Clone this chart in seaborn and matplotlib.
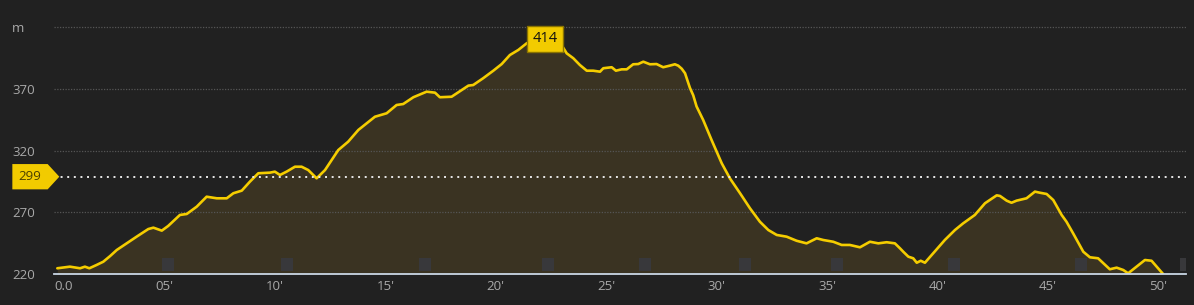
import matplotlib
matplotlib.use("Agg")
import matplotlib.pyplot as plt
import matplotlib.transforms as mtransforms
from matplotlib.patches import Polygon
import seaborn as sns
import pandas as pd

# ---- data ----
minutes = [0.15, 0.72, 1.18, 1.40, 1.60, 1.93, 2.23, 2.54, 2.84, 3.29, 3.74, 4.27, 4.50, 4.88,
           5.17, 5.70, 6.01, 6.46, 6.91, 7.37, 7.82, 8.12, 8.50, 8.87, 9.25, 9.78, 10.00, 10.23,
           10.53, 10.91, 11.21, 11.51, 11.89, 12.27, 12.87, 13.32, 13.78, 14.53, 15.06, 15.51,
           15.81, 16.27, 16.87, 17.25, 17.47, 18.00, 18.46, 18.76, 18.98, 19.43, 19.89, 20.27,
           20.64, 21.02, 21.40, 21.70, 22.23, 22.98, 23.21, 23.51, 23.81, 24.12, 24.41, 24.72,
           24.87, 25.25, 25.44, 25.70, 25.93, 26.22, 26.45, 26.68, 26.98, 27.28, 27.58, 27.88,
           28.11, 28.26, 28.42, 28.57, 28.79, 28.94, 29.09, 29.39, 29.77, 30.23, 30.60, 31.06,
           31.51, 31.96, 32.34, 32.72, 33.17, 33.62, 34.07, 34.53, 34.83, 35.28, 35.66, 36.03,
           36.49, 36.94, 37.32, 37.70, 38.07, 38.30, 38.45, 38.68, 38.90, 39.06, 39.24, 39.43,
           39.80, 40.33, 40.79, 41.16, 41.69, 42.15, 42.68, 42.83, 43.13, 43.35, 43.58, 44.03,
           44.41, 44.64, 44.94, 45.24, 45.62, 45.84, 46.14, 46.60, 46.90, 47.27, 47.80, 48.11,
           48.41, 48.63, 49.01, 49.39, 49.69, 50.22]
elevation = [224.8, 226.1, 224.8, 226.1, 224.8, 227.5, 230.1, 234.7, 239.6, 245.0, 250.4, 256.6, 257.7, 255.3,
             259.1, 268.0, 268.8, 274.7, 282.8, 281.5, 281.5, 285.6, 287.7, 295.0, 301.8, 302.3, 303.1, 300.4,
             303.1, 307.1, 307.1, 304.4, 297.7, 304.4, 320.6, 327.4, 336.9, 347.6, 350.4, 357.1,
             357.9, 363.4, 367.9, 367.1, 363.4, 363.8, 369.3, 372.8, 373.3, 378.8, 384.9, 390.3,
             397.6, 401.7, 407.1, 409.8, 414.0, 405.7, 399.0, 395.0, 389.5, 384.9, 384.9, 384.1,
             386.9, 387.7, 384.9, 386.0, 386.0, 390.1, 390.3, 392.2, 390.1, 390.3, 387.7, 389.0,
             390.1, 389.0, 386.5, 382.8, 371.0, 365.0, 356.0, 345.0, 328.8, 309.9, 297.7, 285.6,
             273.4, 262.5, 255.8, 251.8, 250.4, 247.1, 245.0, 249.1, 247.7, 246.3, 243.7, 243.7,
             241.8, 246.3, 245.0, 245.9, 245.0, 241.0, 238.2, 234.2, 232.9, 229.3, 230.9, 229.3,
             236.9, 247.7, 255.8, 261.2, 268.0, 277.5, 283.9, 283.4, 279.6, 277.9, 279.6, 281.5,
             286.9, 286.0, 285.0, 280.1, 268.0, 262.5, 253.1, 238.2, 233.7, 232.9, 224.0, 225.3,
             223.4, 220.7, 226.1, 231.5, 230.9, 220.0]
km_marks = [5.16, 10.55, 16.81, 22.36, 26.75, 31.28, 35.47, 40.74, 46.51, 51.27]
y_ticks = [220, 270, 320, 370, 420]
y_labels = ["220", "270", "320", "370", "m"]
x_ticks = [0, 5, 10, 15, 20, 25, 30, 35, 40, 45, 50]
x_labels = ["0.0", "05'", "10'", "15'", "20'", "25'", "30'", "35'", "40'", "45'", "50'"]
ref_value = 299
peak_value = 414

df = pd.DataFrame({"minute": minutes, "elevation": elevation})

# ---- style ----
BG = "#212121"
LINE = "#f5cd00"
FILL = "#3a3322"
TXT = "#a9a9a9"

sns.set_theme(style="dark")
plt.rcParams["font.family"] = ["Open Sans", "DejaVu Sans"]

fig = plt.figure(figsize=(11.94, 3.05), dpi=100, facecolor=BG)
ax = fig.add_axes([54 / 1194, 30.8 / 305, 1132 / 1194, 271.5 / 305])
ax.set_facecolor(BG)

ymin, ymax = 220, 440
ax.set_xlim(0, 51.25)
ax.set_ylim(ymin, ymax)

ax.fill_between(df["minute"], df["elevation"], ymin, color=FILL, lw=0, zorder=1)

for yt in y_ticks[1:]:
    ax.axhline(yt, color="#555555", lw=0.9, ls=(0, (1, 1.2)), zorder=1.5)

ax.bar(km_marks, [10.3] * len(km_marks), bottom=222.8, width=0.54,
       color="#38383b", zorder=1.6, linewidth=0)

sns.lineplot(data=df, x="minute", y="elevation", ax=ax, color=LINE, lw=1.9,
             zorder=3, estimator=None, sort=False)

ax.axhline(ref_value, color="#e8e8e8", lw=1.4, ls=(0, (1, 2.4)), zorder=4)

# reference value marker
trans = mtransforms.blended_transform_factory(ax.transAxes, ax.transData)
hh = 10.25
poly = Polygon([(-0.0368, ref_value + hh), (-0.0056, ref_value + hh), (0.0047, ref_value),
                (-0.0056, ref_value - hh), (-0.0368, ref_value - hh)],
               closed=True, transform=trans, clip_on=False, facecolor="#f2cb00",
               edgecolor="none", zorder=5)
ax.add_patch(poly)
ax.text(-0.0216, ref_value, str(ref_value), transform=trans, ha="center", va="center",
        fontsize=9.5, color="#4a3f00", zorder=6, clip_on=False)

# peak label
i_peak = elevation.index(peak_value)
ax.annotate(str(peak_value), xy=(minutes[i_peak], peak_value), xytext=(0, -3),
            textcoords="offset points", ha="center", va="center", fontsize=10.5,
            color="#111111", zorder=7,
            bbox=dict(boxstyle="square,pad=0.36", fc="#f2cb00", ec="#8a7300", lw=1))

# axes
for s in ["top", "right", "left"]:
    ax.spines[s].set_visible(False)
ax.spines["bottom"].set_color("#c9d6e4")
ax.spines["bottom"].set_linewidth(1.3)
ax.spines["bottom"].set_zorder(8)

ax.set_yticks(y_ticks, labels=y_labels)
ax.set_xticks(x_ticks, labels=x_labels)
ax.tick_params(axis="y", length=0, pad=30.2, labelsize=9.5, labelcolor=TXT)
ax.tick_params(axis="x", length=0, pad=4, labelsize=9.5, labelcolor=TXT)
for lab in ax.get_yticklabels():
    lab.set_horizontalalignment("left")
ax.get_xticklabels()[0].set_horizontalalignment("left")
ax.grid(False)
ax.set_xlabel("")
ax.set_ylabel("")

fig.savefig("out.png", dpi=100, facecolor=BG)
